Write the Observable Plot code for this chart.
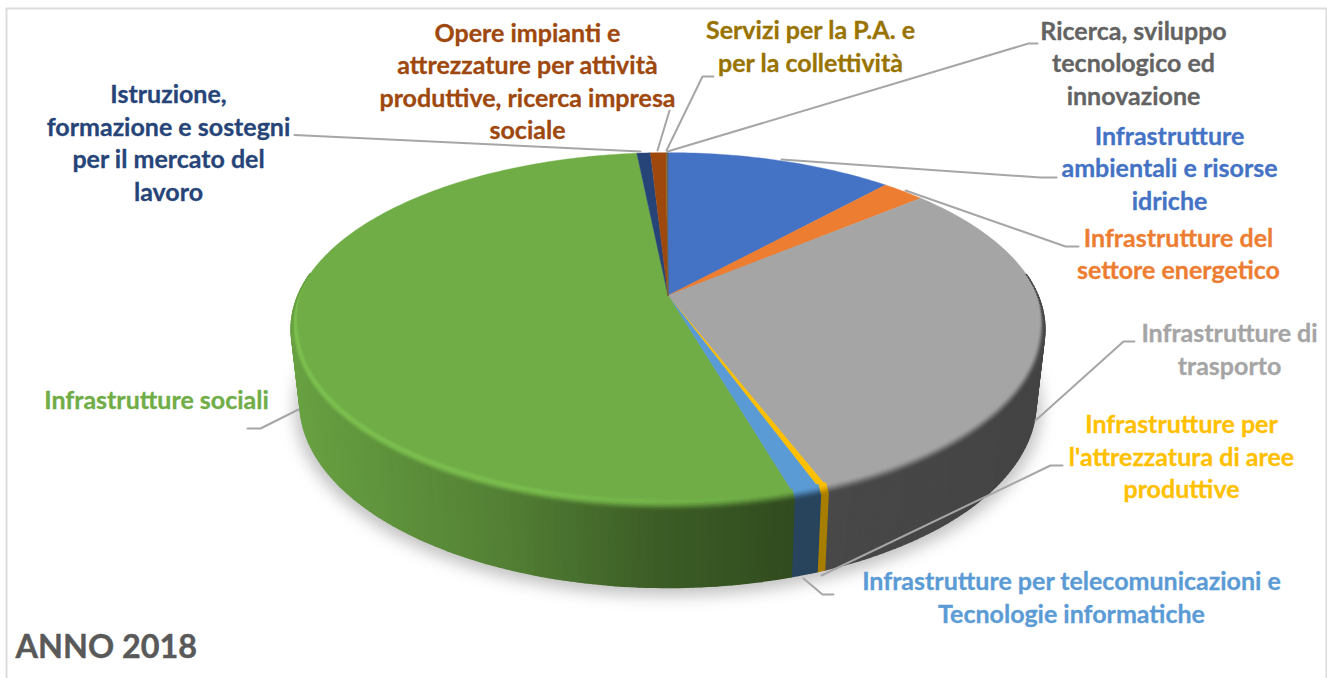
<!DOCTYPE html>
<html>
<head>
<meta charset="utf-8">
<style>
html,body{margin:0;padding:0;background:#fff}
svg{display:block}
</style>
<script src="https://cdn.jsdelivr.net/npm/d3@7"></script>
<script src="https://cdn.jsdelivr.net/npm/@observablehq/plot@0.6"></script>
</head>
<body>
<div id="chart"></div>
<script>
// ---- data ----
const categories = [
  "Infrastrutture\nambientali e risorse\nidriche",
  "Infrastrutture del\nsettore energetico",
  "Infrastrutture di\ntrasporto",
  "Infrastrutture per\nl'attrezzatura di aree\nproduttive",
  "Infrastrutture per telecomunicazioni e\nTecnologie informatiche",
  "Infrastrutture sociali",
  "Istruzione,\nformazione e sostegni\nper il mercato del\nlavoro",
  "Opere impianti e\nattrezzature per attività\nproduttive, ricerca impresa\nsociale",
  "Servizi per la P.A. e\nper la collettività",
  "Ricerca, sviluppo\ntecnologico ed\ninnovazione"
];
const shares = [11.7, 2.2, 30.3, 0.3, 1.0, 52.9, 0.7, 0.8, 0.03, 0.07];
const colors = ["#4472C4","#ED7D31","#A5A5A5","#FFC000","#5B9BD5","#70AD47","#264478","#9E480E","#997300","#636363"];
const chartTitle = "ANNO 2018";

// ---- layout ----
const W = 1327, H = 678;
const labelX = [1169, 1178, 1229, 1181, 1071, 156, 168, 527, 810, 1133];
const labelY = [169, 254.5, 350, 457.5, 598, 401, 143.5, 82, 47, 64];
const leaders = [
  [[781,159],[1040,177],[1056,177]],
  [[905,190],[1065,246],[1078,246]],
  [[1035,420],[1123,341],[1134,341]],
  [[821,575],[1050,465],[1062,465]],
  [[803,578],[822,594],[833,594]],
  [[298,409],[260,428],[247,428]],
  [[640,151],[294,134.5]],
  [[657,150],[669,110]],
  [[666,150],[702,76],[713,76]],
  [[667,151],[1028,43],[1037,43]]
];
const frame = [[6,678],[6,8],[1326,8],[1326,678]];

// pie projection: circle on a tilted plane, seen in perspective
const apex = {x: 667.5, y: 295}, persp = 0.19, R = 370, S = 170;
const rxTop = R / Math.sqrt(1 - persp * persp), ryTop = S / (1 - persp * persp);
const cyTop = apex.y + persp * ryTop;
const base = {cy: 402, rx: 368, ry: 185};
const rim = {dx: 7, inner: 6, outer: 7, layers: 8};

function project(a) { // a: clockwise from 12 o'clock, radians
  const u = Math.sin(a), v = -Math.cos(a), w = 1 - persp * v;
  return {x: apex.x + R * u / w, y: apex.y + S * v / w};
}
function ellipseParam(p) { return {tx: (p.x - apex.x) / rxTop, ty: (p.y - cyTop) / ryTop}; }
function smooth(a, b, t) { t = Math.max(0, Math.min(1, (t - a) / (b - a))); return t * t * (3 - 2 * t); }
const wallShade = d3.scaleLinear().domain([290, 500, 650, 790, 1045]).range([0.93, 0.74, 0.54, 0.44, 0.41]).clamp(true);

const total = d3.sum(shares);
const arcs = [];
let acc = 0;
shares.forEach((s, i) => { arcs.push({i, a0: acc / total * 2 * Math.PI, a1: (acc + s) / total * 2 * Math.PI}); acc += s; });

function anglesOf(arc) {
  const n = Math.max(1, Math.ceil((arc.a1 - arc.a0) / (Math.PI / 180)));
  return d3.range(n + 1).map(k => arc.a0 + (arc.a1 - arc.a0) * k / n);
}
function scaleColor(c, f) { const q = d3.rgb(c); return d3.rgb(q.r * f, q.g * f, q.b * f).formatHex(); }

const topRows = [], wallRows = [], rimRows = [];
arcs.forEach(arc => {
  const as = anglesOf(arc);
  const id = "t" + arc.i;
  const c = colors[arc.i];
  topRows.push({id, x: apex.x, y: apex.y, c});
  as.forEach(a => { const p = project(a); topRows.push({id, x: p.x, y: p.y, c}); });
  for (let k = 0; k < as.length - 1; k++) {
    const p0 = project(as[k]), p1 = project(as[k + 1]);
    const e0 = ellipseParam(p0), e1 = ellipseParam(p1);
    if (Math.max(e0.ty, e1.ty) < -0.3) continue;
    const low = e => ({x: apex.x + base.rx * e.tx, y: base.cy + base.ry * e.ty});
    const b0 = low(e0), b1 = low(e1);
    const mid = (p0.x + p1.x) / 2;
    const boost = arc.i === 3 ? 0.22 : 0;
    const wallC = scaleColor(c, wallShade(mid) + boost);
    const wid = `w${arc.i}_${k}`;
    [p0, p1, b1, b0].forEach(p => wallRows.push({id: wid, x: p.x, y: p.y, c: wallC}));
    // f = 1 is the rim's inner edge on the top face, f = 0 its outer edge on the wall
    const rimPoint = (p, e, f) => {
      const w = smooth(-0.35, 0.1, e.ty);
      const fy = Math.max(e.ty, 0);
      return {
        x: p.x - e.tx * rim.dx * w * f,
        y: p.y - fy * (rim.inner * f - rim.outer * (1 - f)) * w - (1 - fy) * 4 * w * f
      };
    };
    const ridge = 1 - smooth(500, 850, mid);
    for (let j = 0; j < rim.layers; j++) {
      const f0 = 1 - j / rim.layers, f1 = 1 - (j + 1) / rim.layers;
      const t = (j + 0.5) / rim.layers;
      const top = d3.rgb(c), side = d3.rgb(wallC);
      const m = smooth(0.1, 1, t);
      const gain = 1 + 0.13 * ridge * Math.sin(Math.PI * Math.min(1, t * 1.3));
      const col = d3.rgb(
        Math.min(255, (top.r + (side.r - top.r) * m) * gain),
        Math.min(255, (top.g + (side.g - top.g) * m) * gain),
        Math.min(255, (top.b + (side.b - top.b) * m) * gain)
      ).formatHex();
      const rid = `r${arc.i}_${k}_${j}`;
      [rimPoint(p0, e0, f0), rimPoint(p1, e1, f0), rimPoint(p1, e1, f1), rimPoint(p0, e0, f1)]
        .forEach(p => rimRows.push({id: rid, x: p.x, y: p.y, c: col}));
    }
  }
});

// soft shadow below the disc
const shadowRows = d3.range(0, 361, 3).map(d => ({
  x: apex.x + (base.rx + 5) * Math.cos(d * Math.PI / 180),
  y: base.cy + 6 + (base.ry + 2) * Math.sin(d * Math.PI / 180)
}));

const labelRows = categories.map((t, i) => ({t, x: labelX[i], y: labelY[i], c: colors[i]}));
const leaderRows = leaders.flatMap((pts, i) => pts.map(([x, y]) => ({id: i, x, y})));
const frameRows = frame.map(([x, y]) => ({x, y}));

const fill = {x: "x", y: "y", z: "id", fill: "c", stroke: "c", curve: "linear-closed", strokeLinejoin: "round"};
const font = "Lato, Carlito, sans-serif";

const plot = Plot.plot({
  width: W, height: H,
  margin: 0,
  style: {background: "#fff", overflow: "visible"},
  x: {domain: [0, W], range: [0, W], axis: null},
  y: {domain: [0, H], range: [0, H], axis: null},
  color: {type: "identity"},
  marks: [
    Plot.line(frameRows, {x: "x", y: "y", stroke: "#dcdcdc", strokeWidth: 2}),
    Plot.line(shadowRows, {x: "x", y: "y", fill: "#8c8c8c", fillOpacity: 0.55, stroke: "none", curve: "linear-closed", imageFilter: "blur(8px)"}),
    Plot.line(wallRows, {...fill, strokeWidth: 1.5}),
    Plot.line(topRows, {...fill, strokeWidth: 0.4}),
    Plot.line(rimRows, {...fill, strokeWidth: 0.9}),
    Plot.line(leaderRows, {x: "x", y: "y", z: "id", stroke: "#a6a6a6", strokeWidth: 2}),
    Plot.text(labelRows, {
      x: "x", y: "y", text: "t", fill: "c", stroke: "c", strokeWidth: 0.3, fontFamily: font, fontWeight: 700, fontSize: 25,
      lineHeight: 1.3, textAnchor: "middle", lineAnchor: "middle", dy: -2.5
    }),
    Plot.text([chartTitle], {
      x: () => 15, y: () => 648, text: d => d, fill: "#595959", stroke: "#595959", strokeWidth: 0.4, fontFamily: font, fontWeight: 700, fontSize: 32.4,
      textAnchor: "start", lineAnchor: "middle", dy: -1
    })
  ]
});
document.getElementById("chart").appendChild(plot);
</script>
</body>
</html>
